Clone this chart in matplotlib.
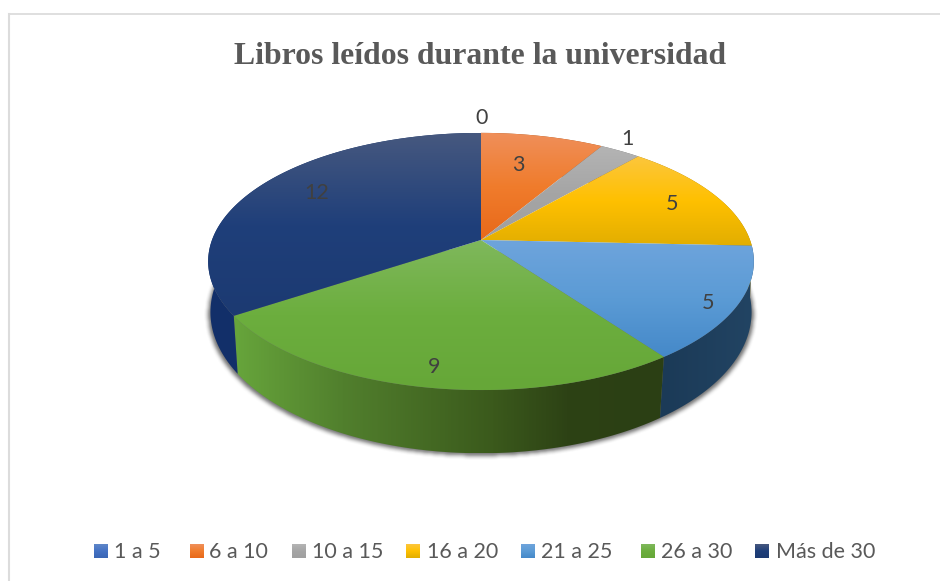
######## Libros leidos - 3D pie drawn by hand #########

import numpy as np
import matplotlib
matplotlib.use('Agg')
import matplotlib.pyplot as plt
from matplotlib.patches import Polygon
from matplotlib.path import Path
from matplotlib.colors import LinearSegmentedColormap

title = 'Libros leídos durante la universidad'
categories = ['1 a 5', '6 a 10', '10 a 15', '16 a 20', '21 a 25', '26 a 30', 'Más de 30']
values = [0, 3, 1, 5, 5, 9, 12]

# top face colours: light, base, dark
top_colors = [('#5f86c8', '#4472c4', '#3a66b5'),
              ('#ef8f5a', '#f07c2c', '#e8691a'),
              ('#b4b4b4', '#a5a5a5', '#a0a0a0'),
              ('#fcc63c', '#ffc000', '#e2ae00'),
              ('#6ea4dc', '#5b9bd5', '#4589c9'),
              ('#7fb85c', '#6cae3e', '#66a738'),
              ('#46587f', '#1f3f7a', '#1c3a72')]
# side colours: left, right (horizontal gradient)
side_colors = [('#2f5597', '#2f5597'),
               ('#a04f18', '#a04f18'),
               ('#707070', '#707070'),
               ('#a07800', '#a07800'),
               ('#1b3a57', '#224463'),
               ('#64a23a', '#2b3f14'),
               ('#12306a', '#132f66')]

label_pos = [(482, 118), (518, 165), (627, 139), (672, 204), (708, 303), (434, 367), (317, 193)]
legend_box_x = [94, 190, 292, 406, 521, 641, 755]
legend_text_x = [114, 209, 312, 427, 541, 661, 776]

# perspective of the pie in pixels
cx = 481


def disc_xy(deg, cy, A, B, k):
    a = np.radians(deg)
    X, Y = np.sin(a), -np.cos(a)
    w = 1 - k * Y
    return cx + B * X / w, cy + A * Y / w


def top_xy(deg):
    return disc_xy(deg, 240, 125, 269, 0.167)


def bottom_xy(deg):
    return disc_xy(deg, 291, 137.9, 267.5, 0.15)


def fill_gradient(ax, pts, img, cmap, zorder):
    x0, y0 = pts.min(axis=0)
    x1, y1 = pts.max(axis=0)
    im = ax.imshow(img, cmap=cmap, extent=(x0, x1, y1, y0), aspect='auto',
                   vmin=0, vmax=1, zorder=zorder, interpolation='bilinear')
    patch = Polygon(pts, closed=True, transform=ax.transData, fc='none', ec='none')
    ax.add_patch(patch)
    im.set_clip_path(patch)


fig = plt.figure(figsize=(9.4, 5.81), dpi=100)
ax = fig.add_axes([0, 0, 1, 1])
ax.set_xlim(0, 940)
ax.set_ylim(581, 0)
ax.axis('off')

# chart frame, only top and left are in the crop
ax.plot([8.5, 940], [13.5, 13.5], color='#d9d9d9', lw=1.2, zorder=0)
ax.plot([8.5, 8.5], [13.5, 581], color='#dcdcdc', lw=1.5, zorder=0)

# soft shadow under the pie
theta = np.linspace(0, 360, 361)
bx, by = bottom_xy(theta)
gx, gy = np.meshgrid(np.arange(190, 780), np.arange(250, 480))
mask = Path(np.column_stack([cx + 1.008 * (bx - cx), by + 2.5])).contains_points(
    np.column_stack([gx.ravel() + 0.5, gy.ravel() + 0.5])).reshape(gx.shape).astype(float)
kernel = np.ones(5) / 5
for _ in range(2):
    mask = np.apply_along_axis(lambda r: np.convolve(r, kernel, mode='same'), 0, mask)
    mask = np.apply_along_axis(lambda r: np.convolve(r, kernel, mode='same'), 1, mask)
rgba = np.zeros(mask.shape + (4,))
rgba[..., :3] = 0.2
rgba[..., 3] = mask * 0.7
ax.imshow(rgba, extent=(190, 780, 480, 250), aspect='auto', zorder=1)

angles = np.concatenate([[0], np.cumsum(values) / np.sum(values) * 360])

# sides
for i in range(len(values)):
    if values[i] == 0:
        continue
    t = np.linspace(angles[i], angles[i + 1], 120)
    tx, ty = top_xy(t)
    bx, by = bottom_xy(t)
    pts = np.vstack([np.column_stack([tx, ty]), np.column_stack([bx, by])[::-1]])
    cmap = LinearSegmentedColormap.from_list('side', side_colors[i])
    # only the front part shows; the top faces cover the rest
    img = np.linspace(0, 1, 64).reshape(1, -1)
    if i == 5:
        cmap = LinearSegmentedColormap.from_list(
            'side', [(0, '#66a43b'), (0.25, '#517f2d'), (0.6, '#3b5a1c'), (0.78, '#2d4215'), (1, '#2b3f14')])
    fill_gradient(ax, pts, img, cmap, 2)

# top faces
for i in range(len(values)):
    if values[i] == 0:
        continue
    t = np.linspace(angles[i], angles[i + 1], 160)
    tx, ty = top_xy(t)
    pts = np.vstack([[cx, 240], np.column_stack([tx, ty])])
    cmap = LinearSegmentedColormap.from_list(
        'top', [(0, top_colors[i][0]), (0.5, top_colors[i][1]), (1, top_colors[i][2])])
    fill_gradient(ax, pts, np.linspace(0, 1, 64).reshape(-1, 1), cmap, 3)

# data labels
for v, (x, y) in zip(values, label_pos):
    ax.text(x, y, str(v), family='Lato', fontsize=15.5, color='#404040',
            ha='center', va='center', zorder=5)

ax.text(480, 56, title, family='Liberation Serif', fontweight='bold', fontsize=22.9,
        color='#595959', ha='center', va='center', zorder=5)

# legend
for i, cat in enumerate(categories):
    x0 = legend_box_x[i]
    sq = np.array([[x0, 544], [x0 + 14, 544], [x0 + 14, 558], [x0, 558]])
    cmap = LinearSegmentedColormap.from_list(
        'leg', [(0, top_colors[i][0]), (0.5, top_colors[i][1]), (1, top_colors[i][2])])
    fill_gradient(ax, sq, np.linspace(0, 1, 32).reshape(-1, 1), cmap, 5)
    ax.text(legend_text_x[i], 552.5, cat, family='Lato', fontsize=15.5, color='#595959',
            ha='left', va='center', zorder=5)

ax.set_xlim(0, 940)
ax.set_ylim(581, 0)

fig.savefig('out.png', dpi=100)
